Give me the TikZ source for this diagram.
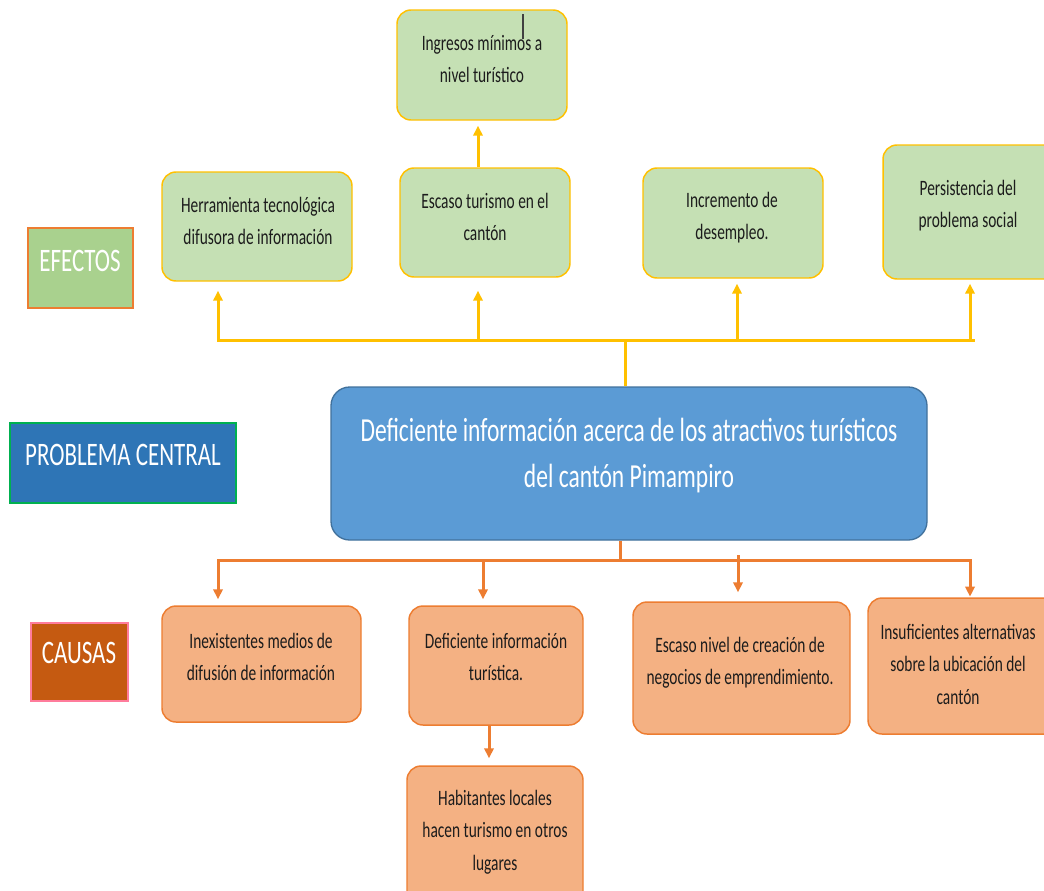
\documentclass[tikz,border=0pt]{standalone}
\usepackage{fontspec}
\usetikzlibrary{arrows.meta,fit}

% Calibri-metric font, set narrow as in the chart
\newfontfamily\calib[FakeStretch=0.7]{Carlito}
\newcommand\smalltext{\calib\fontsize{16.5pt}{24.4pt}\selectfont}
\newcommand\bigtext{\calib\fontsize{24.6pt}{34.5pt}\selectfont}
\newcommand\coretext{\calib\fontsize{25.2pt}{34.5pt}\selectfont}

\definecolor{efffill}{HTML}{C5E0B4}
\definecolor{effline}{HTML}{FFC000}
\definecolor{causefill}{HTML}{F4B183}
\definecolor{causeline}{HTML}{ED7D31}
\definecolor{corefill}{HTML}{5B9BD5}
\definecolor{coreline}{HTML}{41719C}
\definecolor{tageff}{HTML}{A9D18E}
\definecolor{tagcore}{HTML}{2E75B6}
\definecolor{tagcoreline}{HTML}{00B050}
\definecolor{tagcause}{HTML}{C55A11}
\definecolor{tagcauseline}{HTML}{FF7C9C}
\definecolor{bodytext}{HTML}{1C1C1C}

\begin{document}
\begin{tikzpicture}[
  x=0.75pt, y=-0.75pt,
  effbox/.style={draw=effline, fill=efffill, line width=1.1pt, rounded corners=10.5pt, inner sep=0pt},
  causebox/.style={draw=causeline, fill=causefill, line width=1.1pt, rounded corners=10.5pt, inner sep=0pt},
  corebox/.style={draw=coreline, fill=corefill, line width=1pt, rounded corners=14pt, inner sep=0pt},
  tagbox/.style={line width=1.5pt, inner sep=0pt},
  boxtext/.style={font=\smalltext, text=bodytext, text width=200pt, align=flush center, anchor=base, inner sep=0pt},
  bigwhite/.style={font=\coretext, text=white, text width=480pt, align=flush center, anchor=base, inner sep=0pt},
  tagtext/.style={font=\bigtext, text=white, anchor=base, inner sep=0pt},
  effwire/.style={draw=effline, line width=2.25pt},
  causewire/.style={draw=causeline, line width=2.25pt},
  effarrow/.style={effwire, -{Triangle[width=7pt,length=7.5pt]}},
  causearrow/.style={causewire, -{Triangle[width=7pt,length=7.5pt]}},
]
\useasboundingbox (0,0) rectangle (1044,890);
\clip (0,0) rectangle (1044,890);

% ---------- side tags ----------
\node[tagbox, draw=causeline, fill=tageff, fit={(28,228) (133,308)}] (tagE) {};
\node[tagtext] at (80,271) {EFECTOS};
\node[tagbox, draw=tagcoreline, fill=tagcore, fit={(10,423) (236,503)}] (tagP) {};
\node[tagtext] at (123,465) {PROBLEMA CENTRAL};
\node[tagbox, draw=tagcauseline, fill=tagcause, fit={(31,623) (128,701)}] (tagC) {};
\node[tagtext] at (79,663) {CAUSAS};

% ---------- central problem ----------
\node[corebox, fit={(331,387) (927,540)}] (core) {};
\node[bigwhite] (coretxt) at (629,441) {Deficiente información acerca de los atractivos turísticos\\del cantón Pimampiro};

% ---------- effects ----------
\node[effbox, fit={(397,10) (567,120)}] (ingr) {};
\node[boxtext] at (482,50) {Ingresos mínimos a\\nivel turístico};
\draw[draw=black!75, line width=0.8pt] (523,14) -- (523,39);

\node[effbox, fit={(162,172) (352,281)}] (herr) {};
\node[boxtext] at (258,212) {Herramienta tecnológica\\difusora de información};

\node[effbox, fit={(400,168) (570,277)}] (escT) {};
\node[boxtext] at (485,208) {Escaso turismo en el\\cantón};

\node[effbox, fit={(643,168) (823,278)}] (incr) {};
\node[boxtext] at (732,207) {Incremento de\\desempleo.};

\node[effbox, fit={(883,145) (1070,279)}] (pers) {};
\node[boxtext] at (968,195) {Persistencia del\\problema social};

% effect wiring
\coordinate (eUp) at (625,340);
\coordinate (eL) at (218,340);
\coordinate (eR) at (973,340);
\coordinate (eB) at (478,340);
\coordinate (eC) at (737,340);
\coordinate (eD) at (970,340);
\coordinate (eT) at (478,0);
\draw[effwire] (core.north -| eUp) -- (eUp);
\draw[effwire, line cap=rect] (eL) -- (eR);
\draw[effarrow, shorten >=6.75pt] (eL) -- (herr.south -| eL);
\draw[effarrow, shorten >=9.75pt] (eB) -- (escT.south -| eB);
\draw[effarrow, shorten >=3.75pt] (eC) -- (incr.south -| eC);
\draw[effarrow, shorten >=3pt] (eD) -- (pers.south -| eD);
\draw[effarrow, shorten >=3.75pt] (escT.north -| eT) -- (ingr.south -| eT);

% ---------- causes ----------
\node[causebox, fit={(162,606) (361,722)}] (inex) {};
\node[boxtext] at (261,648) {Inexistentes medios de\\difusión de información};

\node[causebox, fit={(409,606) (583,725)}] (defi) {};
\node[boxtext] at (496,648) {Deficiente información\\turística.};

\node[causebox, fit={(633,602) (850,734)}] (escN) {};
\node[boxtext] at (740,652) {Escaso nivel de creación de\\negocios de emprendimiento.};

\node[causebox, fit={(868,598) (1070,734)}] (insu) {};
\node[boxtext] at (958,639) {Insuficientes alternativas\\sobre la ubicación del\\cantón};

\node[causebox, fit={(407,766) (583,910)}] (habi) {};
\node[boxtext] at (495,805) {Habitantes locales\\hacen turismo en otros\\lugares};

% cause wiring
\coordinate (cDown) at (620,560);
\coordinate (cL) at (218,560);
\coordinate (cR) at (970,560);
\coordinate (cB) at (483,560);
\coordinate (cC) at (738,555);
\coordinate (cH) at (489,0);
\draw[causewire] (core.south -| cDown) -- (cDown);
\draw[causewire, line cap=rect] (cL) -- (cR);
\draw[causearrow, shorten >=4.5pt] (cL) -- (inex.north -| cL);
\draw[causearrow, shorten >=4.5pt] (cB) -- (defi.north -| cB);
\draw[causearrow, shorten >=6.75pt] (cC) -- (escN.north -| cC);
\draw[causearrow, shorten >=0.5pt] (cR) -- (insu.north -| cR);
\draw[causearrow, shorten >=5.25pt] (defi.south -| cH) -- (habi.north -| cH);

\end{tikzpicture}
\end{document}
